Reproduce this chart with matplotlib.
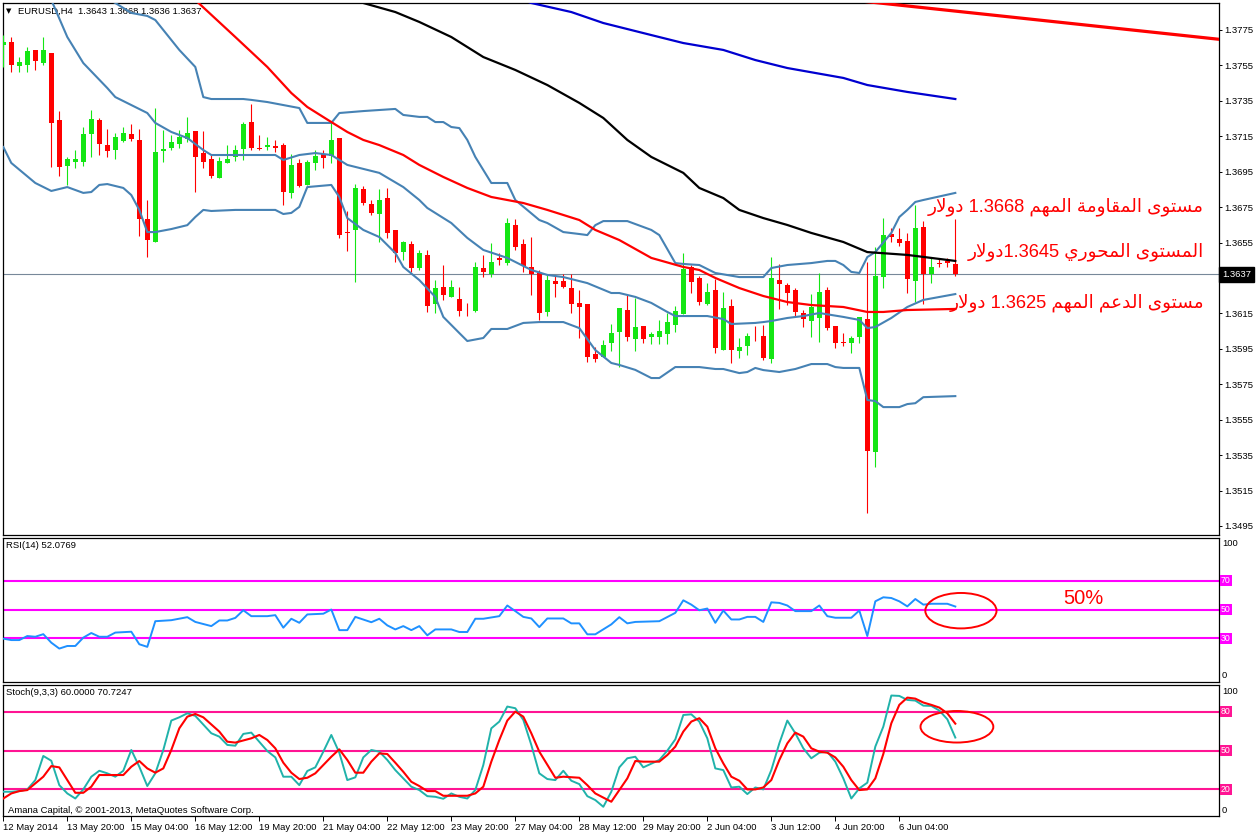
import re
import matplotlib
matplotlib.use('Agg')
import matplotlib.pyplot as plt
import matplotlib.transforms as mtransforms
from matplotlib.patches import Ellipse

plt.rcParams['font.family'] = ['Liberation Sans', 'DejaVu Sans']

# EURUSD H4 candles, bar 0 .. 119
opens = [
    1.37665, 1.37682, 1.37546, 1.37552, 1.37637, 1.37563, 1.37620, 1.37242, 1.36982, 1.37005,
    1.37005, 1.37163, 1.37242, 1.37100, 1.37072, 1.37123, 1.37163, 1.37129, 1.36683, 1.36553,
    1.37067, 1.37084, 1.37106, 1.37134, 1.37180, 1.37055, 1.37021, 1.36914, 1.36999, 1.37033,
    1.37078, 1.37230, 1.37081, 1.37089, 1.37092, 1.37100, 1.36830, 1.36999, 1.36875, 1.36999,
    1.37050, 1.37038, 1.37140, 1.36612, 1.36621, 1.36852, 1.36767, 1.36711, 1.36801, 1.36621,
    1.36496, 1.36542, 1.36406, 1.36480, 1.36203, 1.36299, 1.36243, 1.36231, 1.36183, 1.36163,
    1.36406, 1.36372, 1.36460, 1.36434, 1.36648, 1.36542, 1.36412, 1.36378, 1.36158, 1.36333,
    1.36333, 1.36293, 1.36209, 1.36203, 1.35921, 1.35904, 1.35983, 1.36045, 1.36169, 1.36005,
    1.36079, 1.36016, 1.36016, 1.36034, 1.36084, 1.36147, 1.36412, 1.36350, 1.36203, 1.36282,
    1.35943, 1.36192, 1.35938, 1.35966, 1.36036, 1.36022, 1.35892, 1.36338, 1.36310, 1.36282,
    1.36152, 1.36107, 1.36124, 1.36282, 1.36079, 1.35991, 1.35983, 1.36016, 1.36118, 1.35367,
    1.36355, 1.36598, 1.36570, 1.36559, 1.36333, 1.36638, 1.36372, 1.36432, 1.36443, 1.36430,
]
highs = [
    1.37721, 1.37710, 1.37597, 1.37654, 1.37637, 1.37710, 1.37620, 1.37292, 1.37033, 1.37072,
    1.37202, 1.37298, 1.37253, 1.37191, 1.37168, 1.37202, 1.37219, 1.37191, 1.36790, 1.37309,
    1.37185, 1.37157, 1.37185, 1.37259, 1.37180, 1.37180, 1.37044, 1.37033, 1.37100, 1.37100,
    1.37230, 1.37332, 1.37157, 1.37146, 1.37129, 1.37112, 1.37050, 1.37021, 1.37016, 1.37072,
    1.37072, 1.37230, 1.37140, 1.36728, 1.36880, 1.36869, 1.36790, 1.36852, 1.36858, 1.36621,
    1.36559, 1.36559, 1.36508, 1.36508, 1.36338, 1.36423, 1.36338, 1.36299, 1.36209, 1.36440,
    1.36480, 1.36547, 1.36491, 1.36688, 1.36683, 1.36570, 1.36581, 1.36395, 1.36367, 1.36367,
    1.36372, 1.36372, 1.36282, 1.36203, 1.35960, 1.36000, 1.36090, 1.36180, 1.36254, 1.36237,
    1.36079, 1.36045, 1.36113, 1.36152, 1.36192, 1.36491, 1.36423, 1.36361, 1.36321, 1.36344,
    1.36271, 1.36231, 1.36011, 1.36039, 1.36079, 1.36084, 1.36468, 1.36429, 1.36321, 1.36293,
    1.36169, 1.36259, 1.36378, 1.36299, 1.36079, 1.36039, 1.36022, 1.36130, 1.36440, 1.36525,
    1.36688, 1.36632, 1.36632, 1.36604, 1.36762, 1.36671, 1.36468, 1.36463, 1.36463, 1.36680,
]
lows = [
    1.37541, 1.37513, 1.37513, 1.37513, 1.37524, 1.37552, 1.36976, 1.36926, 1.36875, 1.36971,
    1.36982, 1.37033, 1.37044, 1.37033, 1.37021, 1.37117, 1.37123, 1.36587, 1.36468, 1.36553,
    1.37005, 1.37072, 1.37084, 1.37117, 1.36835, 1.36971, 1.36914, 1.36914, 1.36999, 1.37010,
    1.37016, 1.37072, 1.37072, 1.37072, 1.37061, 1.36762, 1.36801, 1.36863, 1.36875, 1.36959,
    1.36971, 1.36999, 1.36576, 1.36502, 1.36327, 1.36762, 1.36705, 1.36553, 1.36576, 1.36440,
    1.36451, 1.36384, 1.36395, 1.36158, 1.36152, 1.36226, 1.36243, 1.36135, 1.36135, 1.36158,
    1.36355, 1.36355, 1.36423, 1.36423, 1.36508, 1.36384, 1.36254, 1.36113, 1.36135, 1.36243,
    1.36293, 1.36152, 1.36011, 1.35876, 1.35876, 1.35904, 1.35938, 1.35847, 1.35994, 1.35938,
    1.35983, 1.35977, 1.35977, 1.35977, 1.36045, 1.36147, 1.36265, 1.36197, 1.36197, 1.35926,
    1.35943, 1.35870, 1.35898, 1.35915, 1.35994, 1.35887, 1.35870, 1.36175, 1.36197, 1.36135,
    1.36073, 1.36016, 1.35988, 1.36056, 1.35955, 1.35966, 1.35926, 1.35983, 1.35023, 1.35283,
    1.36293, 1.36553, 1.36530, 1.36265, 1.36214, 1.36203, 1.36321, 1.36412, 1.36412, 1.36360,
]
closes = [
    1.37682, 1.37552, 1.37569, 1.37631, 1.37575, 1.37637, 1.37225, 1.36976, 1.37021, 1.37021,
    1.37163, 1.37247, 1.37106, 1.37067, 1.37146, 1.37168, 1.37134, 1.36683, 1.36564, 1.37061,
    1.37078, 1.37117, 1.37146, 1.37168, 1.37033, 1.37005, 1.36926, 1.37010, 1.37021, 1.37072,
    1.37219, 1.37084, 1.37078, 1.37100, 1.37086, 1.36835, 1.36988, 1.36869, 1.37005, 1.37038,
    1.37027, 1.37129, 1.36592, 1.36606, 1.36858, 1.36773, 1.36717, 1.36790, 1.36604, 1.36491,
    1.36553, 1.36406, 1.36491, 1.36192, 1.36293, 1.36254, 1.36299, 1.36163, 1.36178, 1.36412,
    1.36384, 1.36440, 1.36454, 1.36660, 1.36525, 1.36417, 1.36372, 1.36152, 1.36338, 1.36316,
    1.36299, 1.36203, 1.36186, 1.35904, 1.35892, 1.35972, 1.36039, 1.36180, 1.36016, 1.36073,
    1.36005, 1.36034, 1.36050, 1.36101, 1.36163, 1.36400, 1.36327, 1.36214, 1.36271, 1.35955,
    1.36180, 1.35943, 1.35960, 1.36022, 1.36031, 1.35898, 1.36350, 1.36316, 1.36265, 1.36158,
    1.36118, 1.36186, 1.36271, 1.36067, 1.35983, 1.35985, 1.36011, 1.36130, 1.35373, 1.36361,
    1.36592, 1.36581, 1.36547, 1.36344, 1.36632, 1.36372, 1.36412, 1.36426, 1.36437, 1.36370,
]

# Bollinger bands (bar index, price)
bb_up_bars = [10, 14, 16, 18, 19, 22, 24, 25, 26, 30, 31, 33, 35, 37, 38, 41, 42, 45, 49, 50,
              52, 53, 54, 55, 56, 57, 58, 59, 61, 63, 64, 67, 68, 70, 72, 73, 74, 75, 78, 81,
              82, 84, 85, 87, 89, 92, 95, 96, 98, 101, 103, 104, 105, 106, 107, 108, 109, 111,
              112, 113, 114, 115, 119]
bb_up = [1.38004, 1.37902, 1.37846, 1.37829, 1.37806, 1.37637, 1.37541, 1.37371, 1.37360, 1.37360,
         1.37355, 1.37343, 1.37326, 1.37309, 1.37225, 1.37225, 1.37281, 1.37292, 1.37304, 1.37270,
         1.37259, 1.37259, 1.37230, 1.37230, 1.37202, 1.37196, 1.37129, 1.37033, 1.36886, 1.36886,
         1.36790, 1.36677, 1.36660, 1.36609, 1.36598, 1.36592, 1.36648, 1.36671, 1.36671, 1.36621,
         1.36592, 1.36434, 1.36429, 1.36423, 1.36378, 1.36355, 1.36355, 1.36406, 1.36423, 1.36434,
         1.36446, 1.36446, 1.36423, 1.36384, 1.36378, 1.36468, 1.36496, 1.36604, 1.36694, 1.36734,
         1.36779, 1.36790, 1.36830]
bb_mid_bars = [4, 6, 8, 10, 13, 14, 18, 19, 21, 23, 25, 26, 29, 34, 35, 37, 39, 41, 43, 47,
               50, 52, 53, 56, 58, 60, 63, 66, 68, 70, 73, 76, 77, 79, 81, 83, 84, 88, 90, 91,
               94, 95, 96, 98, 100, 102, 105, 107, 108, 109, 111, 113, 115, 119]
bb_mid = [1.38088, 1.37919, 1.37710, 1.37563, 1.37422, 1.37371, 1.37281, 1.37225, 1.37174, 1.37140,
          1.37072, 1.37044, 1.37044, 1.37044, 1.37016, 1.37044, 1.37055, 1.37044, 1.36988, 1.36943,
          1.36863, 1.36790, 1.36745, 1.36660, 1.36576, 1.36508, 1.36463, 1.36395, 1.36367, 1.36355,
          1.36321, 1.36265, 1.36265, 1.36243, 1.36209, 1.36158, 1.36135, 1.36135, 1.36118, 1.36090,
          1.36096, 1.36101, 1.36107, 1.36124, 1.36135, 1.36152, 1.36130, 1.36113, 1.36067, 1.36073,
          1.36124, 1.36186, 1.36226, 1.36259]
bb_low_bars = [0, 1, 4, 6, 7, 8, 10, 11, 12, 13, 15, 16, 17, 18, 19, 21, 23, 24, 25, 26,
               29, 34, 35, 36, 37, 38, 41, 42, 43, 45, 47, 49, 50, 52, 54, 55, 57, 58, 60, 61,
               63, 65, 67, 70, 72, 74, 76, 77, 79, 81, 82, 84, 87, 89, 90, 92, 93, 94, 95, 97,
               99, 101, 103, 104, 105, 107, 108, 109, 110, 112, 113, 114, 115, 119]
bb_low = [1.37089, 1.36999, 1.36886, 1.36841, 1.36852, 1.36863, 1.36830, 1.36835, 1.36875, 1.36880,
          1.36858, 1.36818, 1.36734, 1.36609, 1.36609, 1.36626, 1.36648, 1.36694, 1.36734, 1.36728,
          1.36734, 1.36734, 1.36711, 1.36717, 1.36751, 1.36863, 1.36875, 1.36807, 1.36688, 1.36621,
          1.36581, 1.36491, 1.36412, 1.36338, 1.36243, 1.36130, 1.36039, 1.35994, 1.36011, 1.36062,
          1.36062, 1.36096, 1.36101, 1.36101, 1.36067, 1.35943, 1.35870, 1.35859, 1.35831, 1.35785,
          1.35785, 1.35847, 1.35847, 1.35836, 1.35836, 1.35813, 1.35819, 1.35842, 1.35830, 1.35819,
          1.35836, 1.35864, 1.35864, 1.35847, 1.35842, 1.35842, 1.35661, 1.35655, 1.35621, 1.35621,
          1.35638, 1.35643, 1.35677, 1.35683]

# moving averages
ma_red_bars = [22, 24, 29, 33, 36, 38, 41, 43, 45, 47, 50, 52, 55, 58, 61, 65, 68, 72, 74, 77,
               81, 85, 87, 89, 92, 95, 98, 101, 105, 108, 110, 113, 119]
ma_red = [1.38004, 1.37919, 1.37710, 1.37541, 1.37394, 1.37315, 1.37230, 1.37174, 1.37129, 1.37100,
          1.37044, 1.36988, 1.36920, 1.36858, 1.36807, 1.36773, 1.36734, 1.36677, 1.36621, 1.36564,
          1.36463, 1.36412, 1.36395, 1.36350, 1.36293, 1.36248, 1.36214, 1.36197, 1.36186, 1.36158,
          1.36158, 1.36169, 1.36175]
ma_black_bars = [43, 45, 49, 52, 56, 60, 64, 68, 72, 75, 78, 81, 85, 87, 90, 92, 95, 98, 101, 105,
                 108, 113, 116, 119]
ma_black = [1.37947, 1.37902, 1.37851, 1.37795, 1.37710, 1.37597, 1.37524, 1.37439, 1.37338, 1.37253,
            1.37129, 1.37033, 1.36943, 1.36858, 1.36801, 1.36734, 1.36688, 1.36649, 1.36604, 1.36553,
            1.36496, 1.36480, 1.36463, 1.36446]
ma_blue_bars = [64, 66, 71, 75, 81, 85, 90, 94, 98, 105, 108, 113, 119]
ma_blue = [1.37936, 1.37902, 1.37851, 1.37789, 1.37721, 1.37676, 1.37637, 1.37580, 1.37535, 1.37479,
           1.37439, 1.37400, 1.37360]
trend_bars = [100, 152]
trend_prices = [1.37948, 1.37697]

last_price = 1.3637
price_ticks = [1.3495, 1.3515, 1.3535, 1.3555, 1.3575, 1.3595, 1.3615, 1.3635,
               1.3655, 1.3675, 1.3695, 1.3715, 1.3735, 1.3755, 1.3775]

# RSI(14)
rsi_bars = [0, 1, 2, 3, 4, 5, 6, 7, 8, 9, 10, 11, 12, 13, 14, 16, 17, 18, 19, 21, 23, 24, 26, 27,
            28, 29, 30, 31, 33, 34, 35, 36, 37, 38, 40, 41, 42, 43, 44, 46, 47, 48, 49, 50, 51,
            52, 53, 54, 56, 57, 58, 59, 60, 62, 63, 64, 65, 66, 67, 68, 70, 71, 72, 73, 74, 76,
            77, 78, 79, 82, 84, 85, 86, 87, 88, 89, 90, 91, 92, 93, 94, 95, 96, 97, 98, 99, 101,
            102, 103, 104, 106, 107, 108, 109, 110, 111, 112, 113, 114, 115, 116, 118, 119]
rsi_vals = [29.8, 28.8, 28.8, 31.6, 31.1, 32.9, 27.0, 22.9, 24.7, 24.7, 30.5, 33.7, 31.1, 31.1, 34.0,
            34.6, 25.9, 24.1, 41.9, 42.6, 44.7, 41.4, 38.5, 42.4, 42.4, 44.2, 49.5, 45.4, 45.4, 46.1,
            37.4, 43.6, 40.8, 46.6, 47.1, 50.0, 35.7, 35.7, 44.9, 41.2, 43.6, 39.0, 36.2, 38.5, 35.7,
            38.5, 32.1, 36.2, 36.2, 34.4, 34.4, 43.6, 43.6, 45.4, 52.8, 48.9, 44.9, 43.8, 37.8, 43.8,
            43.8, 40.4, 40.4, 32.8, 32.8, 39.7, 44.7, 40.4, 41.4, 41.9, 47.7, 56.4, 53.4, 49.5, 50.7,
            40.8, 49.3, 43.1, 43.1, 44.9, 44.9, 41.4, 55.0, 54.6, 52.8, 48.9, 48.9, 52.8, 45.4, 44.3,
            44.3, 49.3, 31.6, 55.7, 58.5, 58.0, 55.7, 52.2, 57.3, 53.4, 54.0, 54.0, 52.1]
rsi_levels = [70, 50, 30]

# Stochastic(9,3,3)
st_main_bars = [0, 1, 2, 3, 4, 5, 6, 7, 8, 9, 10, 11, 12, 13, 14, 15, 16, 17, 18, 19, 20, 21, 22,
                23, 24, 26, 27, 28, 29, 30, 31, 33, 34, 35, 36, 37, 38, 39, 40, 41, 42, 43, 44, 45,
                46, 47, 48, 49, 51, 52, 53, 54, 55, 56, 57, 58, 59, 60, 61, 62, 63, 64, 65, 66, 67,
                68, 69, 70, 71, 72, 73, 74, 75, 76, 77, 78, 79, 80, 82, 83, 84, 85, 86, 87, 88, 89,
                90, 91, 92, 93, 94, 95, 96, 97, 98, 99, 100, 101, 102, 103, 104, 105, 106, 107, 108,
                109, 110, 111, 112, 113, 114, 115, 116, 117, 118, 119]
st_main = [18.2, 18.2, 18.7, 20.0, 27.2, 45.8, 42.1, 23.3, 16.9, 13.0, 20.0, 29.8, 34.4, 32.4, 29.8,
           34.4, 50.4, 37.5, 22.6, 32.4, 50.4, 73.1, 75.6, 78.7, 76.7, 63.3, 60.7, 54.3, 53.7, 62.8,
           63.8, 49.6, 44.7, 29.8, 29.8, 23.3, 34.2, 37.0, 49.1, 62.0, 48.3, 27.2, 29.3, 44.7, 50.4,
           49.1, 42.7, 34.9, 22.1, 19.5, 14.8, 14.3, 12.8, 16.9, 14.3, 13.0, 19.5, 38.8, 67.1, 72.3,
           83.9, 82.6, 73.6, 54.3, 32.4, 28.0, 27.2, 34.4, 26.7, 24.1, 14.8, 11.8, 6.6, 18.2, 37.0,
           44.0, 45.2, 37.0, 42.7, 49.9, 58.6, 77.4, 77.9, 72.3, 59.4, 36.2, 34.9, 21.5, 22.1, 16.4,
           21.5, 20.0, 34.9, 55.5, 73.1, 63.3, 51.7, 44.0, 48.3, 49.1, 41.4, 28.5, 13.0, 20.8, 25.2,
           53.0, 68.4, 92.4, 92.1, 89.0, 88.5, 84.6, 84.4, 80.8, 74.1, 60.0]
st_sig_bars = [0, 1, 2, 3, 5, 6, 7, 8, 9, 10, 11, 12, 14, 15, 16, 17, 18, 19, 20, 21, 22, 23, 24,
               25, 27, 28, 29, 31, 32, 33, 34, 35, 36, 37, 38, 39, 41, 42, 43, 44, 45, 46, 47, 48,
               49, 50, 51, 52, 53, 54, 55, 57, 58, 59, 60, 61, 62, 63, 64, 65, 66, 67, 69, 70, 72,
               73, 74, 76, 77, 78, 79, 80, 82, 83, 84, 85, 86, 87, 88, 89, 90, 91, 92, 93, 94, 95,
               96, 97, 98, 99, 100, 101, 102, 103, 104, 105, 106, 107, 108, 109, 110, 111, 112, 113,
               114, 115, 116, 117, 118, 119]
st_sig = [13.0, 16.9, 18.7, 19.5, 29.8, 38.0, 37.0, 27.2, 17.4, 17.4, 22.1, 31.1, 31.1, 31.1, 37.5,
          41.9, 36.2, 32.9, 36.2, 50.4, 67.1, 76.1, 78.2, 75.6, 64.6, 56.8, 56.1, 59.4, 62.0, 58.1,
          51.7, 40.6, 32.9, 28.0, 29.0, 32.4, 45.2, 50.9, 42.7, 32.9, 32.9, 41.4, 47.8, 47.3, 40.6,
          33.6, 25.9, 22.6, 18.7, 18.7, 15.1, 15.1, 15.1, 16.9, 22.1, 41.4, 58.1, 73.1, 80.0, 76.1,
          63.3, 49.1, 29.0, 29.8, 29.0, 23.3, 16.9, 10.5, 19.5, 28.5, 41.9, 41.4, 41.4, 46.5, 53.0,
          64.6, 72.3, 74.9, 68.4, 51.7, 40.1, 29.8, 26.7, 20.0, 20.0, 21.5, 27.2, 42.7, 55.5, 63.8,
          60.7, 51.7, 49.1, 48.3, 44.7, 37.5, 27.2, 19.5, 20.0, 28.5, 47.3, 71.0, 85.2, 90.8, 90.0,
          87.0, 85.2, 83.1, 78.7, 70.7]
st_levels = [80, 50, 20]

date_bars = [0, 8, 16, 24, 32, 40, 48, 56, 64, 72, 80, 88, 96, 104, 112]
date_labels = ['12 May 2014', '13 May 20:00', '15 May 04:00', '16 May 12:00', '19 May 20:00',
               '21 May 04:00', '22 May 12:00', '23 May 20:00', '27 May 04:00', '28 May 12:00',
               '29 May 20:00', '2 Jun 04:00', '3 Jun 12:00', '4 Jun 20:00', '6 Jun 04:00']

notes = ['مستوى المقاومة المهم 1.3668 دولار',
         'المستوى المحوري 1.3645دولار',
         'مستوى الدعم المهم 1.3625 دولار']
note_prices = [1.36750, 1.36498, 1.36212]


# no text shaping in matplotlib: map to presentation forms and lay out right-to-left
AR_FORMS = {
    'ا': ('\ufe8d', '\ufe8e', None, None),
    'د': ('\ufea9', '\ufeaa', None, None),
    'ر': ('\ufead', '\ufeae', None, None),
    'و': ('\ufeed', '\ufeee', None, None),
    'ة': ('\ufe93', '\ufe94', None, None),
    'ى': ('\ufeef', '\ufef0', None, None),
    'م': ('\ufee1', '\ufee2', '\ufee3', '\ufee4'),
    'س': ('\ufeb1', '\ufeb2', '\ufeb3', '\ufeb4'),
    'ت': ('\ufe95', '\ufe96', '\ufe97', '\ufe98'),
    'ل': ('\ufedd', '\ufede', '\ufedf', '\ufee0'),
    'ق': ('\ufed5', '\ufed6', '\ufed7', '\ufed8'),
    'ه': ('\ufee9', '\ufeea', '\ufeeb', '\ufeec'),
    'ح': ('\ufea1', '\ufea2', '\ufea3', '\ufea4'),
    'ي': ('\ufef1', '\ufef2', '\ufef3', '\ufef4'),
    'ع': ('\ufec9', '\ufeca', '\ufecb', '\ufecc'),
}


def shape(txt):
    out = []
    i = 0
    while i < len(txt):
        c = txt[i]
        if c not in AR_FORMS:
            out.append(c)
            i += 1
            continue
        prev = txt[i - 1] if i > 0 else ''
        joined = prev in AR_FORMS and AR_FORMS[prev][2] is not None
        if c == 'ل' and i + 1 < len(txt) and txt[i + 1] == 'ا':
            out.append('\ufefc' if joined else '\ufefb')
            i += 2
            continue
        nxt = txt[i + 1] if i + 1 < len(txt) else ''
        iso, fin, ini, med = AR_FORMS[c]
        links = ini is not None and nxt in AR_FORMS
        if joined and links:
            out.append(med)
        elif joined:
            out.append(fin)
        elif links:
            out.append(ini)
        else:
            out.append(iso)
        i += 1
    return ''.join(out)


def rtl(txt):
    parts = re.findall(r'[0-9.]+|[^0-9.]+', txt)
    return ''.join(p if p[0].isdigit() else shape(p)[::-1] for p in reversed(parts))


W, H = 1258, 835


def px_rect(x0, y0, x1, y1):
    return [x0 / W, 1 - y1 / H, (x1 - x0) / W, (y1 - y0) / H]


fig = plt.figure(figsize=(W / 100, H / 100), dpi=100)
ax = fig.add_axes(px_rect(2.5, 3, 1219, 535))
ax_rsi = fig.add_axes(px_rect(2.5, 537.5, 1219, 682))
ax_st = fig.add_axes(px_rect(2.5, 684.5, 1219, 816))

small = 6.8
for a in (ax, ax_rsi, ax_st):
    a.set_xlim(-0.1, 151.96)
    for s in a.spines.values():
        s.set_linewidth(0.9)
    a.set_xticks([])

# ---- price panel
bars = list(range(len(opens)))
cols = ['#14e614' if c >= o else '#ff0000' for o, c in zip(opens, closes)]
ax.axhline(last_price, color='#778899', lw=0.8, zorder=1)
ax.vlines(bars, lows, highs, colors=cols, lw=0.8, zorder=3)
ax.bar(bars, [max(abs(c - o), 0.00004) for o, c in zip(opens, closes)], 0.62,
       [min(o, c) for o, c in zip(opens, closes)], color=cols, linewidth=0, zorder=4)

bb_col = '#4682b4'
ax.plot(bb_up_bars, bb_up, color=bb_col, lw=1.5, zorder=5)
ax.plot(bb_mid_bars, bb_mid, color=bb_col, lw=1.5, zorder=5)
ax.plot(bb_low_bars, bb_low, color=bb_col, lw=1.5, zorder=5)
ax.plot(ma_red_bars, ma_red, color='#ff0000', lw=1.6, zorder=5)
ax.plot(ma_black_bars, ma_black, color='black', lw=1.6, zorder=5)
ax.plot(ma_blue_bars, ma_blue, color='#0000d0', lw=1.6, zorder=5)
ax.plot(trend_bars, trend_prices, color='#ff0000', lw=2.3, zorder=5)

ax.set_ylim(1.34899, 1.37902)
ax.yaxis.tick_right()
ax.set_yticks(price_ticks)
ax.set_yticklabels([f'{t:.4f}' for t in price_ticks], fontsize=small)
ax.tick_params(axis='y', length=2.5, width=0.7, pad=1.5)
# the last-price box sits on top of the 1.3635 level, as in the terminal
for t, lab in zip(price_ticks, ax.get_yticklabels()):
    if abs(t - last_price) < 0.0005:
        lab.set_visible(False)

blend = mtransforms.blended_transform_factory(ax.transAxes, ax.transData)
ax.text(1.0025, last_price, f'{last_price:.4f}', transform=blend, ha='left', va='center',
        color='white', fontsize=small, zorder=10, clip_on=False,
        bbox=dict(boxstyle='square,pad=0.3', fc='black', ec='black'))

ax.annotate('▼', xy=(0, 1), xycoords='axes fraction', xytext=(4.7, -5.8),
            textcoords='offset points', ha='center', va='center', fontsize=5,
            family='DejaVu Sans')
ax.annotate('EURUSD,H4  1.3643 1.3668 1.3636 1.3637', xy=(0, 1), xycoords='axes fraction',
            xytext=(11.2, -5.8), textcoords='offset points', ha='left', va='center',
            fontsize=small)

for txt, p in zip(notes, note_prices):
    ax.text(0.9877, p, rtl(txt), transform=blend, ha='right', va='center',
            color='#ff0000', fontsize=13.2, zorder=8)

# ---- RSI panel
ax_rsi.set_ylim(-0.3, 100)
ax_rsi.set_yticks([])
for lv in rsi_levels:
    ax_rsi.axhline(lv, color='#ff00ff', lw=1.5, zorder=2)
ax_rsi.plot(rsi_bars, rsi_vals, color='#1e90ff', lw=1.4, zorder=3)
bl_rsi = mtransforms.blended_transform_factory(ax_rsi.transAxes, ax_rsi.transData)
for lv in rsi_levels:
    ax_rsi.text(1.0015, lv, str(lv), transform=bl_rsi, ha='left', va='center', color='white',
                fontsize=6.3, clip_on=False,
                bbox=dict(boxstyle='square,pad=0.12', fc='#ff00ff', ec='none'))
ax_rsi.text(1.0025, 95.5, '100', transform=bl_rsi, ha='left', va='center', fontsize=small)
ax_rsi.text(1.0025, 4.5, '0', transform=bl_rsi, ha='left', va='center', fontsize=small)
ax_rsi.annotate('RSI(14) 52.0769', xy=(0, 1), xycoords='axes fraction', xytext=(2.5, -6.1),
                textcoords='offset points', ha='left', va='center', fontsize=small)
ax_rsi.add_patch(Ellipse((119.7, 49.2), 8.9, 24.6, fill=False, ec='#ff0000', lw=1.4, zorder=4))
ax_rsi.text(132.5, 57.5, '50%', color='#ff0000', fontsize=14.5, ha='left', va='center')

# ---- Stochastic panel
ax_st.set_ylim(-0.5, 100.9)
ax_st.set_yticks([])
for lv in st_levels:
    ax_st.axhline(lv, color='#ff1493', lw=1.5, zorder=2)
ax_st.plot(st_main_bars, st_main, color='#20b2aa', lw=1.4, zorder=3)
ax_st.plot(st_sig_bars, st_sig, color='#ff0000', lw=1.5, zorder=4)
bl_st = mtransforms.blended_transform_factory(ax_st.transAxes, ax_st.transData)
for lv in st_levels:
    ax_st.text(1.0015, lv, str(lv), transform=bl_st, ha='left', va='center', color='white',
               fontsize=6.3, clip_on=False,
               bbox=dict(boxstyle='square,pad=0.12', fc='#ff1493', ec='none'))
ax_st.text(1.0025, 95.6, '100', transform=bl_st, ha='left', va='center', fontsize=small)
ax_st.text(1.0025, 3.5, '0', transform=bl_st, ha='left', va='center', fontsize=small)
ax_st.annotate('Stoch(9,3,3) 60.0000 70.7247', xy=(0, 1), xycoords='axes fraction',
               xytext=(2.5, -6.1), textcoords='offset points', ha='left', va='center',
               fontsize=small)
ax_st.annotate('Amana Capital, © 2001-2013, MetaQuotes Software Corp.', xy=(0, 0),
               xycoords='axes fraction', xytext=(4, 4.3), textcoords='offset points',
               ha='left', va='center', fontsize=small)
ax_st.add_patch(Ellipse((119.2, 68.3), 9.1, 24.3, fill=False, ec='#ff0000', lw=1.4, zorder=5))

ax_st.set_xticks(date_bars)
ax_st.set_xticklabels(date_labels, ha='left', fontsize=small)
ax_st.tick_params(axis='x', length=3.6, width=0.7, pad=1.5)

fig.savefig('out.png', dpi=100)
